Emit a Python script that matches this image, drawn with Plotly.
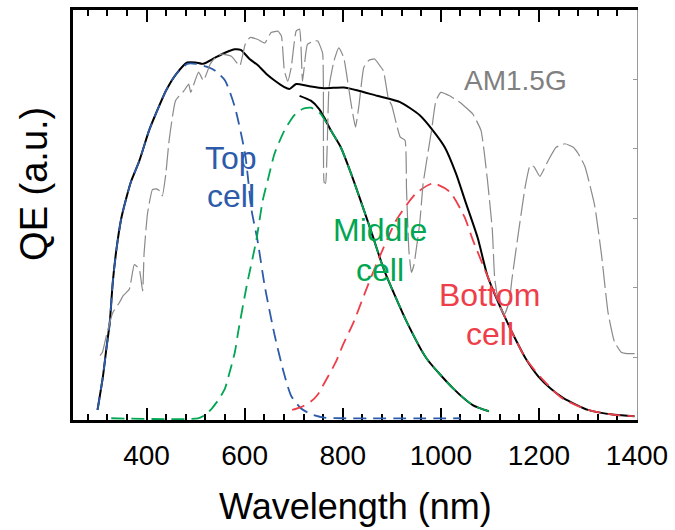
import plotly.graph_objects as go

# Wavelength grids (nm) and quantum-efficiency values (arbitrary units)
total_wl = [300, 311, 318, 325, 331, 338, 348, 358, 368, 385, 405, 420, 440, 460, 483,
            500, 515, 540, 560, 580, 592, 610, 627, 645, 661, 680, 692, 705, 730, 762,
            802, 829, 870, 917, 957, 984, 1008, 1031, 1051, 1075, 1095, 1112, 1129, 1152,
            1173, 1199, 1225, 1250, 1300, 1354, 1395]
total_qe = [0.12, 0.6, 1.0, 1.38, 1.95, 2.4, 2.86, 3.15, 3.4, 3.7, 4.14, 4.4, 4.72, 4.95, 5.12,
            5.12, 5.1, 5.19, 5.26, 5.31, 5.3, 5.17, 5.08, 4.95, 4.86, 4.77, 4.74, 4.81, 4.78, 4.75,
            4.76, 4.72, 4.64, 4.55, 4.36, 4.14, 3.9, 3.52, 3.1, 2.6, 2.05, 1.75, 1.48, 1.14,
            0.86, 0.6, 0.42, 0.29, 0.12, 0.05, 0.03]

top_wl = [300, 311, 318, 325, 331, 338, 348, 358, 368, 385, 405, 420, 440, 460, 483,
          500, 527, 540, 560, 580, 601, 614, 626, 641, 661, 680, 695, 715, 735, 762,
          800, 1040]
top_qe = [0.12, 0.6, 1.0, 1.38, 1.95, 2.4, 2.86, 3.15, 3.4, 3.7, 4.14, 4.4, 4.72, 4.95, 5.1,
          5.1, 5.05, 5.0, 4.86, 4.48, 3.8, 3.0, 2.57, 1.9, 1.2, 0.65, 0.32, 0.14, 0.06, 0.01,
          0.0, 0.0]

middle_wl = [328, 505, 520, 533, 548, 560, 567, 580, 587, 604, 624, 637, 648, 661, 681,
             701, 718, 735, 745, 755, 776, 796, 817, 857, 884, 931, 971, 1025, 1065, 1098]
middle_qe = [0.0, 0.0, 0.05, 0.14, 0.28, 0.43, 0.6, 0.95, 1.25, 1.9, 2.57, 3.14, 3.45, 3.81, 4.14,
             4.36, 4.45, 4.47, 4.43, 4.38, 4.14, 3.9, 3.52, 2.71, 2.14, 1.38, 0.86, 0.43, 0.19, 0.1]

# Measured middle-cell response drawn underneath the dashed overlay
middle_meas_wl = [712, 735, 752, 762, 776, 796, 817, 857, 884, 931, 971, 1025, 1065, 1098]
middle_meas_qe = [4.64, 4.57, 4.45, 4.33, 4.14, 3.9, 3.52, 2.71, 2.14, 1.38, 0.86, 0.43, 0.19, 0.1]

bottom_wl = [697, 715, 735, 750, 762, 786, 800, 822, 845, 870, 910, 950, 984, 1018, 1048,
             1065, 1095, 1129, 1152, 1173, 1206, 1247, 1300, 1354, 1394]
bottom_qe = [0.12, 0.16, 0.24, 0.35, 0.5, 0.81, 1.05, 1.38, 1.8, 2.24, 2.86, 3.24, 3.38, 3.26, 2.9,
             2.57, 2.05, 1.48, 1.14, 0.86, 0.57, 0.29, 0.12, 0.05, 0.03]

# AM1.5G solar spectrum (scaled)
am15_wl = [305, 310, 318, 331, 345, 352, 365, 375, 385, 392, 395, 402, 412, 420, 429,
           432, 439, 446, 459, 476, 486, 490, 506, 516, 530, 540, 553, 573, 590, 601,
           611, 627, 641, 654, 668, 675, 681, 688, 695, 705, 712, 718, 728, 742, 749,
           759, 762, 765, 772, 782, 792, 802, 816, 826, 833, 843, 853, 865, 876, 883,
           893, 900, 917, 927, 930, 935, 940, 945, 957, 964, 981, 990, 1000, 1018, 1038,
           1065, 1082, 1095, 1105, 1110, 1120, 1130, 1140, 1145, 1159, 1172, 1182, 1190, 1202, 1219,
           1235, 1253, 1270, 1280, 1294, 1314, 1328, 1341, 1354, 1368, 1380, 1395]
am15_val = [0.9, 0.95, 1.19, 1.52, 1.67, 1.76, 1.86, 2.21, 2.15, 1.83, 2.38, 2.95, 3.29, 3.3, 3.26,
            3.2, 3.5, 4.0, 4.57, 4.71, 4.81, 4.69, 4.98, 4.86, 5.1, 5.19, 5.24, 5.21, 5.07, 5.38,
            5.48, 5.45, 5.4, 5.55, 5.57, 5.5, 5.0, 4.85, 5.05, 5.57, 5.6, 4.85, 5.38, 5.43, 5.43,
            5.25, 3.4, 3.38, 4.76, 5.14, 5.33, 5.19, 4.57, 4.19, 4.5, 5.05, 5.15, 5.17, 5.07, 5.0,
            4.6, 4.5, 4.05, 4.0, 3.3, 2.4, 2.1, 2.2, 2.81, 3.38, 4.14, 4.57, 4.69, 4.64, 4.55,
            4.38, 4.14, 3.43, 2.71, 2.0, 1.6, 1.5, 1.7, 2.0, 2.71, 3.33, 3.64, 3.62, 3.48, 3.71,
            3.9, 3.95, 3.9, 3.81, 3.62, 3.05, 2.33, 1.52, 1.1, 0.95, 0.93, 0.93]

x_ticks = [400, 600, 800, 1000, 1200, 1400]

BLUE = "#2d5ba9"
GREEN = "#00a651"
RED = "#ee3e4a"
GRAY = "#8a8a8a"
FONT = "Arial, Liberation Sans, Helvetica, sans-serif"

# y range starts a hair below zero so zero-level dashes sit on the axis line
Y_RANGE = [-0.025, 5.875]

fig = go.Figure()

# Solar spectrum on the right-hand axis
fig.add_trace(go.Scatter(x=am15_wl, y=am15_val, mode="lines", yaxis="y2",
                         line=dict(color=GRAY, width=1.2, dash="22px,5px", shape="spline",
                                   smoothing=0.4),
                         hoverinfo="skip", showlegend=False))

# Measured responses (solid black)
fig.add_trace(go.Scatter(x=middle_meas_wl, y=middle_meas_qe, mode="lines",
                         line=dict(color="black", width=2, shape="spline", smoothing=0.6),
                         showlegend=False))
fig.add_trace(go.Scatter(x=total_wl, y=total_qe, mode="lines",
                         line=dict(color="black", width=2, shape="spline", smoothing=0.6),
                         showlegend=False))

# Sub-cell curves (dashed, coloured)
for wl, qe, col in [(top_wl, top_qe, BLUE), (middle_wl, middle_qe, GREEN),
                    (bottom_wl, bottom_qe, RED)]:
    fig.add_trace(go.Scatter(x=wl, y=qe, mode="lines",
                             line=dict(color=col, width=1.8, dash="13px,7px",
                                       shape="spline", smoothing=0.6),
                             showlegend=False))

labels = [
    ("Top", 573, 3.74, BLUE), ("cell", 573, 3.2, BLUE),
    ("Middle", 876, 2.71, GREEN), ("cell", 876, 2.14, GREEN),
    ("Bottom", 1100, 1.77, RED), ("cell", 1100, 1.21, RED),
]
for txt, lx, ly, col in labels:
    fig.add_annotation(x=lx, y=ly, text=txt, showarrow=False, xanchor="center",
                       yanchor="middle", font=dict(family=FONT, size=32, color=col))
fig.add_annotation(x=1152, y=4.86, text="AM1.5G", showarrow=False, xanchor="center",
                   yanchor="middle", font=dict(family=FONT, size=28, color="#808080"))

# Axis titles
fig.add_annotation(x=0.5, y=-0.212, xref="paper", yref="paper", text="Wavelength (nm)",
                   showarrow=False, xanchor="center", yanchor="middle",
                   font=dict(family=FONT, size=36, color="black"))
fig.add_annotation(x=-0.068, y=0.575, xref="paper", yref="paper", text="QE (a.u.)",
                   showarrow=False, textangle=-90, xanchor="center", yanchor="middle",
                   font=dict(family=FONT, size=38, color="black"))

fig.update_layout(
    width=675, height=530,
    margin=dict(l=73, r=32, t=7, b=110),
    paper_bgcolor="white", plot_bgcolor="white",
    font=dict(family=FONT, color="black"),
    xaxis=dict(range=[250, 1400], tickvals=x_ticks, ticks="inside", ticklen=12,
               tickwidth=2, tickcolor="black", showline=True, linecolor="black",
               linewidth=2.5, mirror="ticks", showgrid=False, zeroline=False,
               layer="below traces",
               tickfont=dict(size=28, family=FONT), ticklabelstandoff=9,
               minor=dict(dtick=40, tick0=0, ticks="inside", ticklen=6, tickwidth=2,
                          tickcolor="black", showgrid=False)),
    yaxis=dict(range=Y_RANGE, showline=True, linecolor="black", linewidth=2.5,
               ticks="", showticklabels=False, showgrid=False, zeroline=False,
               layer="below traces"),
    yaxis2=dict(range=Y_RANGE, overlaying="y", side="right", showline=True,
                linecolor="#999999", linewidth=1, ticks="inside", ticklen=4, tickwidth=1,
                tickcolor="#999999", dtick=1, tick0=0.875, showticklabels=False,
                showgrid=False, zeroline=False, layer="below traces"),
)

fig.write_html("out.html")
